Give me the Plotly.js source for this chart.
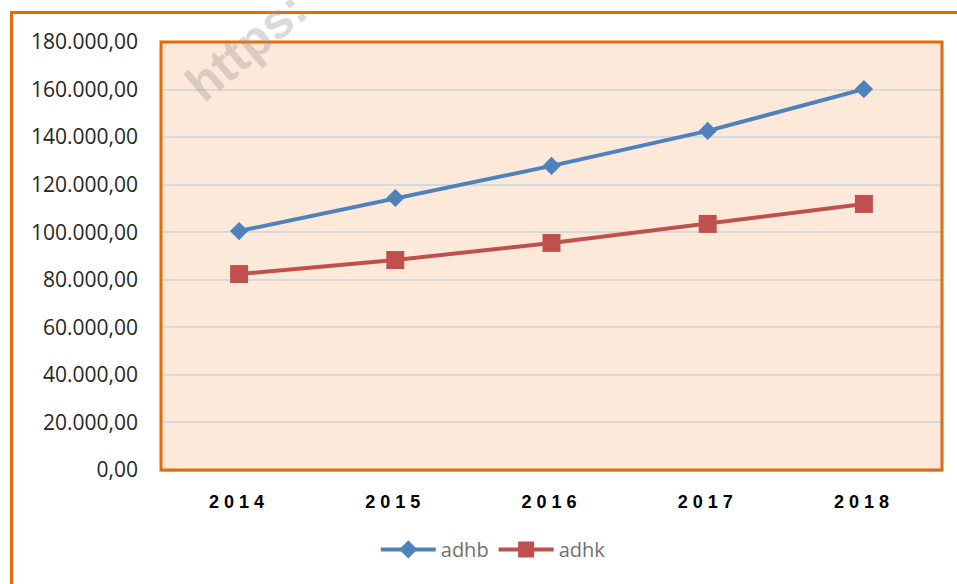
<!DOCTYPE html>
<html>
<head>
<meta charset="utf-8">
<script src="https://cdn.plot.ly/plotly-3.0.1.min.js"></script>
<style>
  html, body { margin: 0; padding: 0; background: #ffffff; overflow: hidden; }
  #wrap { position: relative; width: 957px; height: 584px; }
  #frame { position: absolute; left: 10px; top: 11px; width: 1000px; height: 1000px;
           border: 3px solid #e36c0a; box-sizing: border-box; pointer-events: none; }
  #chart { position: absolute; left: 0; top: 0; width: 957px; height: 584px; }
  .xtick text { letter-spacing: 5px; }
</style>
</head>
<body>
<div id="wrap">
  <div id="frame"></div>
  <div id="chart"></div>
</div>
<script>
const years = ["2014", "2015", "2016", "2017", "2018"];
const adhb = [100500, 114400, 127900, 142600, 160200];
const adhk = [82400, 88300, 95500, 103500, 111900];
const yTicks = [0, 20000, 40000, 60000, 80000, 100000, 120000, 140000, 160000, 180000];

const traces = [
  {
    x: years, y: adhb, name: "adhb", type: "scatter", mode: "lines+markers",
    line: { color: "#4f81bd", width: 4 },
    marker: { symbol: "diamond", size: 14, color: "#4f81bd" }
  },
  {
    x: years, y: adhk, name: "adhk", type: "scatter", mode: "lines+markers",
    line: { color: "#c0504d", width: 4 },
    marker: { symbol: "square", size: 18, color: "#c0504d" }
  }
];

const layout = {
  width: 957, height: 584,
  margin: { l: 161, r: 15, t: 42, b: 114 },
  paper_bgcolor: "rgba(0,0,0,0)",
  plot_bgcolor: "#fde9d9",
  separators: ",.",
  showlegend: true,
  legend: {
    orientation: "h", x: 0.275, xanchor: "left", y: -0.14, yanchor: "top",
    itemwidth: 55,
    font: { family: "Open Sans, Liberation Sans, sans-serif", size: 20, color: "#707070" },
    bgcolor: "rgba(0,0,0,0)"
  },
  xaxis: {
    type: "category", range: [-0.5, 4.5],
    showgrid: false, zeroline: false,
    showline: true, linecolor: "#d9d9d9", linewidth: 2,
    ticks: "", ticklabelstandoff: 14,
    tickfont: { family: "Liberation Sans, Arial, sans-serif", size: 18, color: "#000000", weight: "bold" }
  },
  yaxis: {
    range: [0, 180000], tickvals: yTicks, tickformat: ",.2f",
    showgrid: true, gridcolor: "#d9d9d9", gridwidth: 2,
    zeroline: false, showline: false, ticks: "",
    ticklabelstandoff: 22,
    tickfont: { family: "Open Sans, Liberation Sans, sans-serif", size: 21, color: "#262626" }
  },
  shapes: [
    { type: "rect", xref: "paper", yref: "paper", x0: 0, x1: 1, y0: 0, y1: 1,
      line: { color: "#e36c0a", width: 3 }, fillcolor: "rgba(0,0,0,0)", layer: "above" }
  ],
  annotations: [
    { text: "<b>https:</b>", xref: "paper", yref: "paper", x: 0.11, y: 0.99,
      xanchor: "center", yanchor: "middle", textangle: -40, showarrow: false,
      font: { family: "Liberation Sans, Arial, sans-serif", size: 50, color: "rgba(150,150,150,0.35)" } }
  ]
};

Plotly.newPlot("chart", traces, layout, { displayModeBar: false, staticPlot: true });
</script>
</body>
</html>
